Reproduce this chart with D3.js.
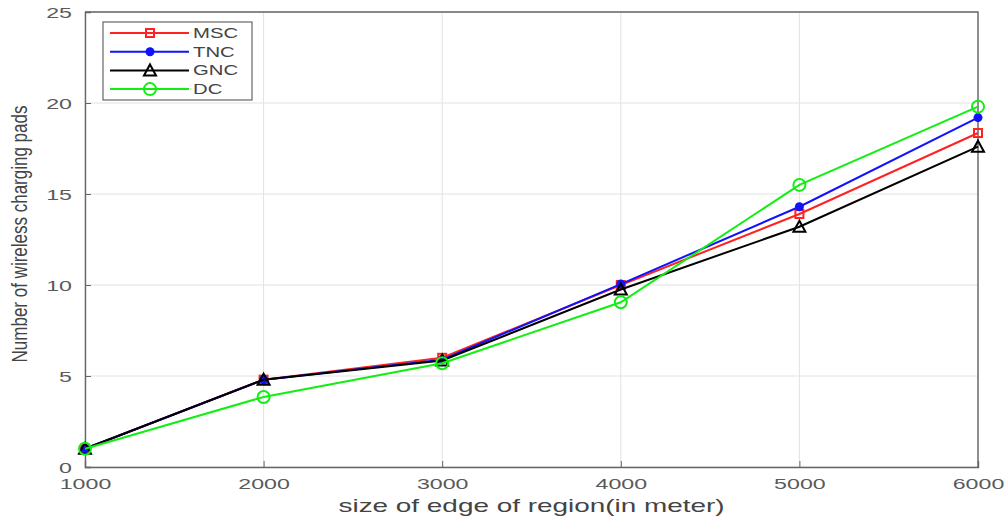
<!DOCTYPE html>
<html>
<head>
<meta charset="utf-8">
<script src="https://cdn.jsdelivr.net/npm/d3@7"></script>
<style>
  body { margin: 0; background: #fff; }
  text { font-family: "Liberation Sans", Arial, sans-serif; }
</style>
</head>
<body>
<div id="chart"></div>
<script>
// data
const edgeSizes = [1000, 2000, 3000, 4000, 5000, 6000];
const mscValues = [1.0, 4.8, 6.0, 10.0, 13.9, 18.35];
const tncValues = [1.0, 4.8, 5.9, 10.05, 14.3, 19.2];
const gncValues = [1.0, 4.8, 5.85, 9.75, 13.2, 17.6];
const dcValues  = [1.0, 3.85, 5.7, 9.05, 15.5, 19.8];
const seriesNames = ["MSC", "TNC", "GNC", "DC"];
const xTicks = [1000, 2000, 3000, 4000, 5000, 6000];
const yTicks = [0, 5, 10, 15, 20, 25];

const series = [
    {name: seriesNames[0], values: mscValues, color: "#f22", marker: "square"},
    {name: seriesNames[1], values: tncValues, color: "#11f", marker: "dot"},
    {name: seriesNames[2], values: gncValues, color: "#000", marker: "triangle"},
    {name: seriesNames[3], values: dcValues,  color: "#1e1", marker: "circle"}
];

const width = 1006, height = 519;
const margin = {top: 12, right: 28, bottom: 52, left: 85};
const w = width - margin.left - margin.right;
const h = height - margin.top - margin.bottom;

// the source image is stretched sideways, so the texts are too
const stretch = 1.6;

const svg = d3.select("#chart").append("svg")
    .attr("width", width)
    .attr("height", height);

const plot = svg.append("g")
    .attr("transform", `translate(${margin.left},${margin.top})`);

const x = d3.scaleLinear().domain([1000, 6000]).range([0, w]);
const y = d3.scaleLinear().domain([0, 25]).range([h, 0]);

// grid
plot.append("g").selectAll("line")
    .data(xTicks)
    .enter().append("line")
    .attr("x1", d => x(d)).attr("x2", d => x(d))
    .attr("y1", 0).attr("y2", h)
    .attr("stroke", "#e2e2e2");
plot.append("g").selectAll("line")
    .data(yTicks)
    .enter().append("line")
    .attr("x1", 0).attr("x2", w)
    .attr("y1", d => y(d)).attr("y2", d => y(d))
    .attr("stroke", "#e2e2e2");

// axes, ticks inward like matlab
const xAxis = d3.axisBottom(x).tickValues(xTicks).tickSize(-6).tickFormat(d3.format("d"));
const yAxis = d3.axisLeft(y).tickValues(yTicks).tickSize(-6);

const gx = plot.append("g")
    .attr("transform", `translate(0,${h})`)
    .call(xAxis);
const gy = plot.append("g").call(yAxis);

[gx, gy].forEach(g => {
    g.select(".domain").attr("stroke", "#666").attr("stroke-width", 1.4);
    g.selectAll(".tick line").attr("stroke", "#666");
    g.selectAll(".tick text")
        .attr("fill", "#5a5a5a")
        .style("font-size", "14.5px");
});
gx.selectAll(".tick text")
    .attr("y", 0).attr("dy", 0)
    .attr("transform", `translate(0,22) scale(${stretch},1)`);
gy.selectAll(".tick text")
    .attr("x", 0).attr("dy", "0.36em")
    .attr("transform", `translate(-13,0) scale(${stretch},1)`);

// top and right frame
plot.append("path")
    .attr("d", `M0,0H${w}V${h}`)
    .attr("fill", "none")
    .attr("stroke", "#666")
    .attr("stroke-width", 1.4);

// axis labels
svg.append("text")
    .attr("transform", `translate(${margin.left + w / 2},512) scale(1.55,1)`)
    .attr("text-anchor", "middle")
    .attr("fill", "#444")
    .style("font-size", "18px")
    .text("size of edge of region(in meter)");

svg.append("text")
    .attr("transform", "translate(27,234) scale(1.25,1) rotate(-90)")
    .attr("text-anchor", "middle")
    .attr("fill", "#444")
    .style("font-size", "17px")
    .text("Number of wireless charging pads");

// lines
const line = d3.line()
    .x((d, i) => x(edgeSizes[i]))
    .y(d => y(d));

function drawMarker(g, type, color) {
    if (type === "square") {
        g.append("rect")
            .attr("x", -4).attr("y", -4).attr("width", 8).attr("height", 8)
            .attr("fill", "none").attr("stroke", color).attr("stroke-width", 2);
    } else if (type === "dot") {
        g.append("circle").attr("r", 4.5).attr("fill", color);
    } else if (type === "triangle") {
        g.append("path")
            .attr("d", "M0,-6L6,5H-6Z")
            .attr("fill", "none").attr("stroke", color).attr("stroke-width", 2);
    } else {
        g.append("circle").attr("r", 6)
            .attr("fill", "none").attr("stroke", color).attr("stroke-width", 2);
    }
}

series.forEach(s => {
    plot.append("path")
        .datum(s.values)
        .attr("fill", "none")
        .attr("stroke", s.color)
        .attr("stroke-width", 2)
        .attr("d", line);

    plot.selectAll(null)
        .data(s.values)
        .enter().append("g")
        .attr("transform", (d, i) => `translate(${x(edgeSizes[i])},${y(d)})`)
        .each(function() { drawMarker(d3.select(this), s.marker, s.color); });
});

// legend
const legend = svg.append("g").attr("transform", "translate(103,22)");
legend.append("rect")
    .attr("width", 149).attr("height", 78)
    .attr("fill", "#fff").attr("stroke", "#666").attr("stroke-width", 1.2);

series.forEach((s, i) => {
    const row = legend.append("g").attr("transform", `translate(0,${11 + i * 18.7})`);
    row.append("line")
        .attr("x1", 7).attr("x2", 86)
        .attr("stroke", s.color).attr("stroke-width", 2);
    drawMarker(row.append("g").attr("transform", "translate(47,0)"), s.marker, s.color);
    row.append("text")
        .attr("transform", "translate(90,5) scale(1.45,1)")
        .attr("fill", "#444")
        .style("font-size", "14px")
        .text(s.name);
});
</script>
</body>
</html>
